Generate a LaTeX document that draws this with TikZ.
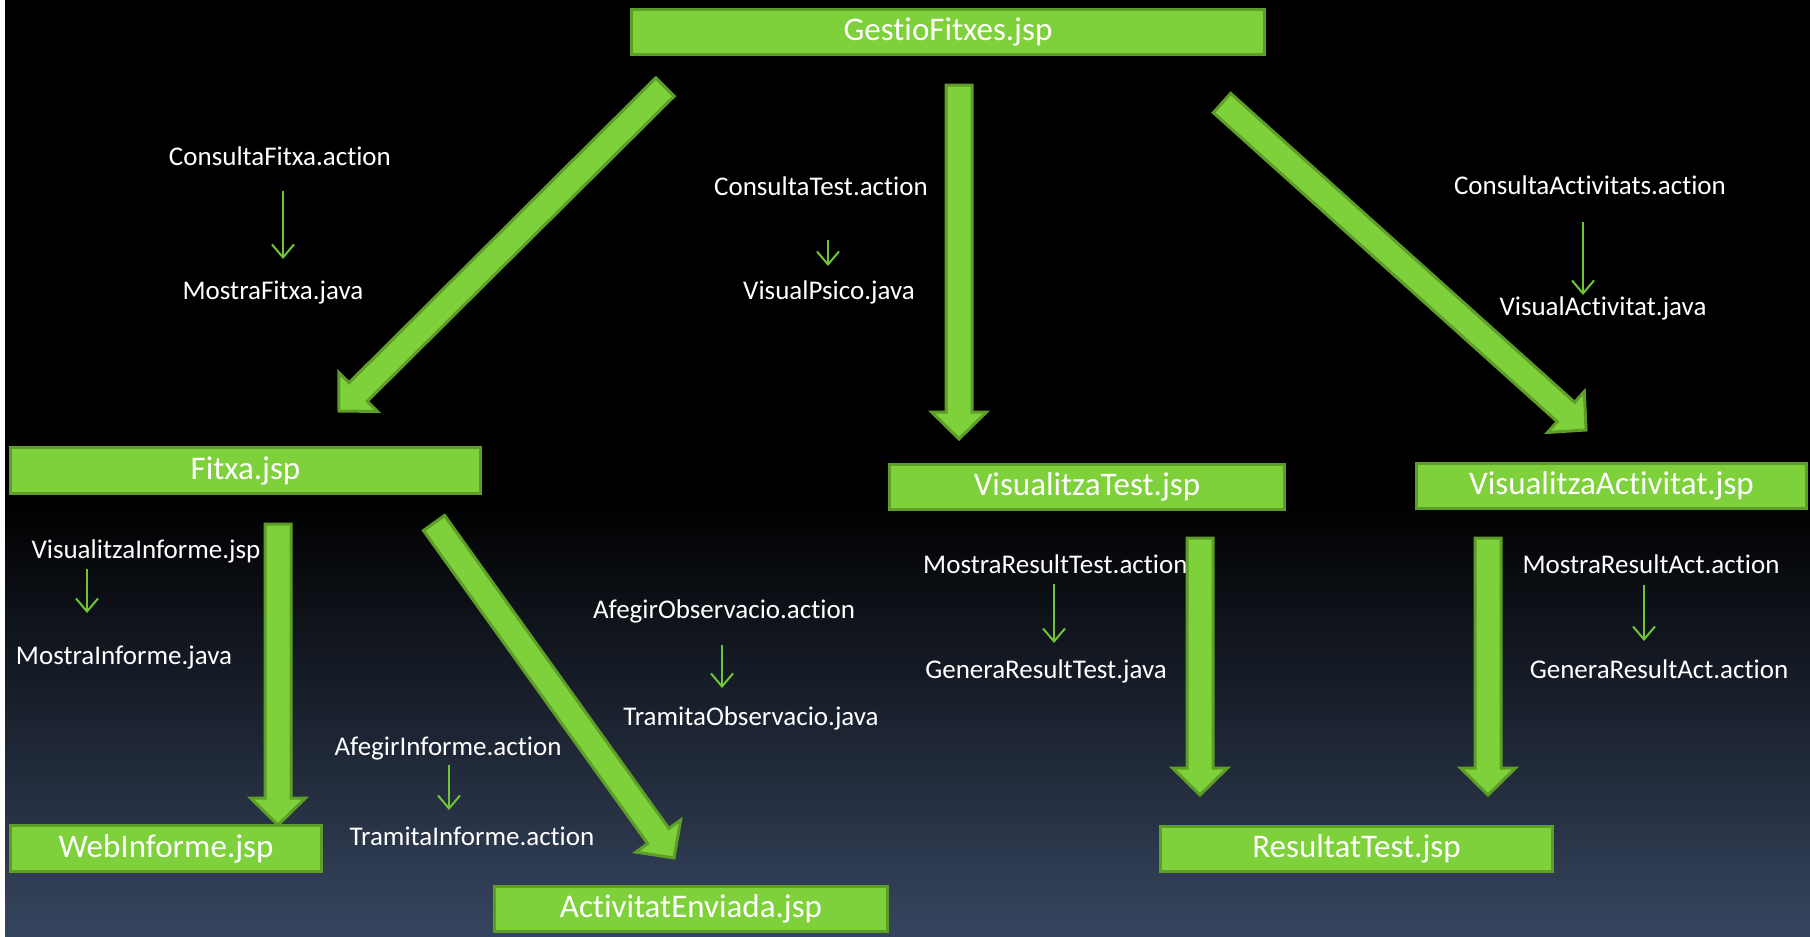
\documentclass[tikz,border=0pt]{standalone}
\usepackage{fontspec}
\setmainfont{Carlito}[Ligatures={NoCommon}]
\usetikzlibrary{calc,arrows.meta}
\definecolor{gfill}{HTML}{7ED13B}
\definecolor{gline}{HTML}{5E9D28}
\definecolor{sarrow}{HTML}{6FC535}
\definecolor{bgbot}{HTML}{36455F}
\definecolor{bgmid}{HTML}{0D1016}
\newcommand{\blockarr}[2]{%
  \coordinate (hb) at ($(#2)!27pt!(#1)$);
  \draw[bigarrow] ($(#1)!13pt!90:(#2)$) -- ($(hb)!13pt!-90:(#1)$) -- ($(hb)!27.5pt!-90:(#1)$) -- (#2)
    -- ($(hb)!27.5pt!90:(#1)$) -- ($(hb)!13pt!90:(#1)$) -- ($(#1)!13pt!-90:(#2)$) -- cycle;}
\begin{document}
\begin{tikzpicture}[x=1pt,y=-1pt,
  box/.style={draw=gline, fill=gfill, line width=3pt, text=white, font=\fontsize{33}{38}\selectfont, inner sep=0pt},
  lbl/.style={text=white, font=\fontsize{27}{32}\selectfont, anchor=base, inner sep=0pt},
  small/.style={draw=sarrow, line width=2pt, -{Straight Barb[length=13pt,width=22pt]}},
  bigarrow/.style={draw=gline, fill=gfill, line width=3pt, line join=miter}]
\useasboundingbox (0,0) rectangle (1810,937);
% background
\fill[white] (0,0) rectangle (5,937);
\fill[black] (5,0) rectangle (1810,501);
\shade[top color=black, middle color=bgmid, bottom color=bgbot] (5,500) rectangle (1810,937);
% boxes
\node[box, minimum width=633pt, minimum height=45pt] (gestio) at (948,32) {GestioFitxes.jsp};
\node[box, minimum width=470pt, minimum height=46pt] (fitxa) at (245.5,470.5) {Fitxa.jsp};
\node[box, minimum width=311pt, minimum height=46pt] (webinf) at (166,848.5) {WebInforme.jsp};
\node[box, minimum width=393pt, minimum height=45pt] (actenv) at (691,909) {ActivitatEnviada.jsp};
\node[box, minimum width=395pt, minimum height=45pt] (vtest) at (1087,486.5) {VisualitzaTest.jsp};
\node[box, minimum width=390pt, minimum height=45pt] (vact) at (1611.5,486) {VisualitzaActivitat.jsp};
\node[box, minimum width=392pt, minimum height=45pt] (restest) at (1356.5,848.5) {ResultatTest.jsp};
% labels
\node[lbl] (l1) at (280,165) {ConsultaFitxa.action};
\node[lbl] (l2) at (273,299) {MostraFitxa.java};
\node[lbl] (l3) at (821,195) {ConsultaTest.action};
\node[lbl] (l4) at (829,299) {VisualPsico.java};
\node[lbl] (l5) at (1590,194) {ConsultaActivitats.action};
\node[lbl] (l6) at (1603,315) {VisualActivitat.java};
\node[lbl] (l7) at (146,558) {VisualitzaInforme.jsp};
\node[lbl] (l8) at (124,664) {MostraInforme.java};
\node[lbl] (l9) at (448,755) {AfegirInforme.action};
\node[lbl] (l10) at (472,845) {TramitaInforme.action};
\node[lbl] (l11) at (724,618) {AfegirObservacio.action};
\node[lbl] (l12) at (751,725) {TramitaObservacio.java};
\node[lbl, anchor=base west] (l13) at (923,573) {MostraResultTest.action};
\node[lbl] (l14) at (1046,678) {GeneraResultTest.java};
\node[lbl] (l15) at (1651,573) {MostraResultAct.action};
\node[lbl] (l16) at (1659,678) {GeneraResultAct.action};
% small arrows
\coordinate (s1a) at (283,191); \coordinate (s1b) at (283,259);
\coordinate (s2a) at (828,240); \coordinate (s2b) at (828,266);
\coordinate (s3a) at (1583,222); \coordinate (s3b) at (1583,295);
\coordinate (s4a) at (87,569); \coordinate (s4b) at (87,613);
\coordinate (s5a) at (449,765); \coordinate (s5b) at (449,810);
\coordinate (s6a) at (722,645); \coordinate (s6b) at (722,688);
\coordinate (s7a) at (1054,584); \coordinate (s7b) at (1054,643);
\coordinate (s8a) at (1644,585); \coordinate (s8b) at (1644,641);
\foreach \i in {1,...,8} {\draw[small] (s\i a) -- (s\i b);}
% big arrows
\coordinate (b1a) at (665,87);   \coordinate (b1b) at (339,411);
\coordinate (b2a) at (959,85);   \coordinate (b2b) at (959,439);
\coordinate (b3a) at (1222,103); \coordinate (b3b) at (1586,430);
\coordinate (b4a) at (278,524);  \coordinate (b4b) at (278,825);
\coordinate (b5a) at (434,523);  \coordinate (b5b) at (674,858);
\coordinate (b6a) at (1200,538); \coordinate (b6b) at (1200,795);
\coordinate (b7a) at (1488,538); \coordinate (b7b) at (1488,795);
\foreach \i in {1,...,7} {\blockarr{b\i a}{b\i b}}
\end{tikzpicture}
\end{document}
